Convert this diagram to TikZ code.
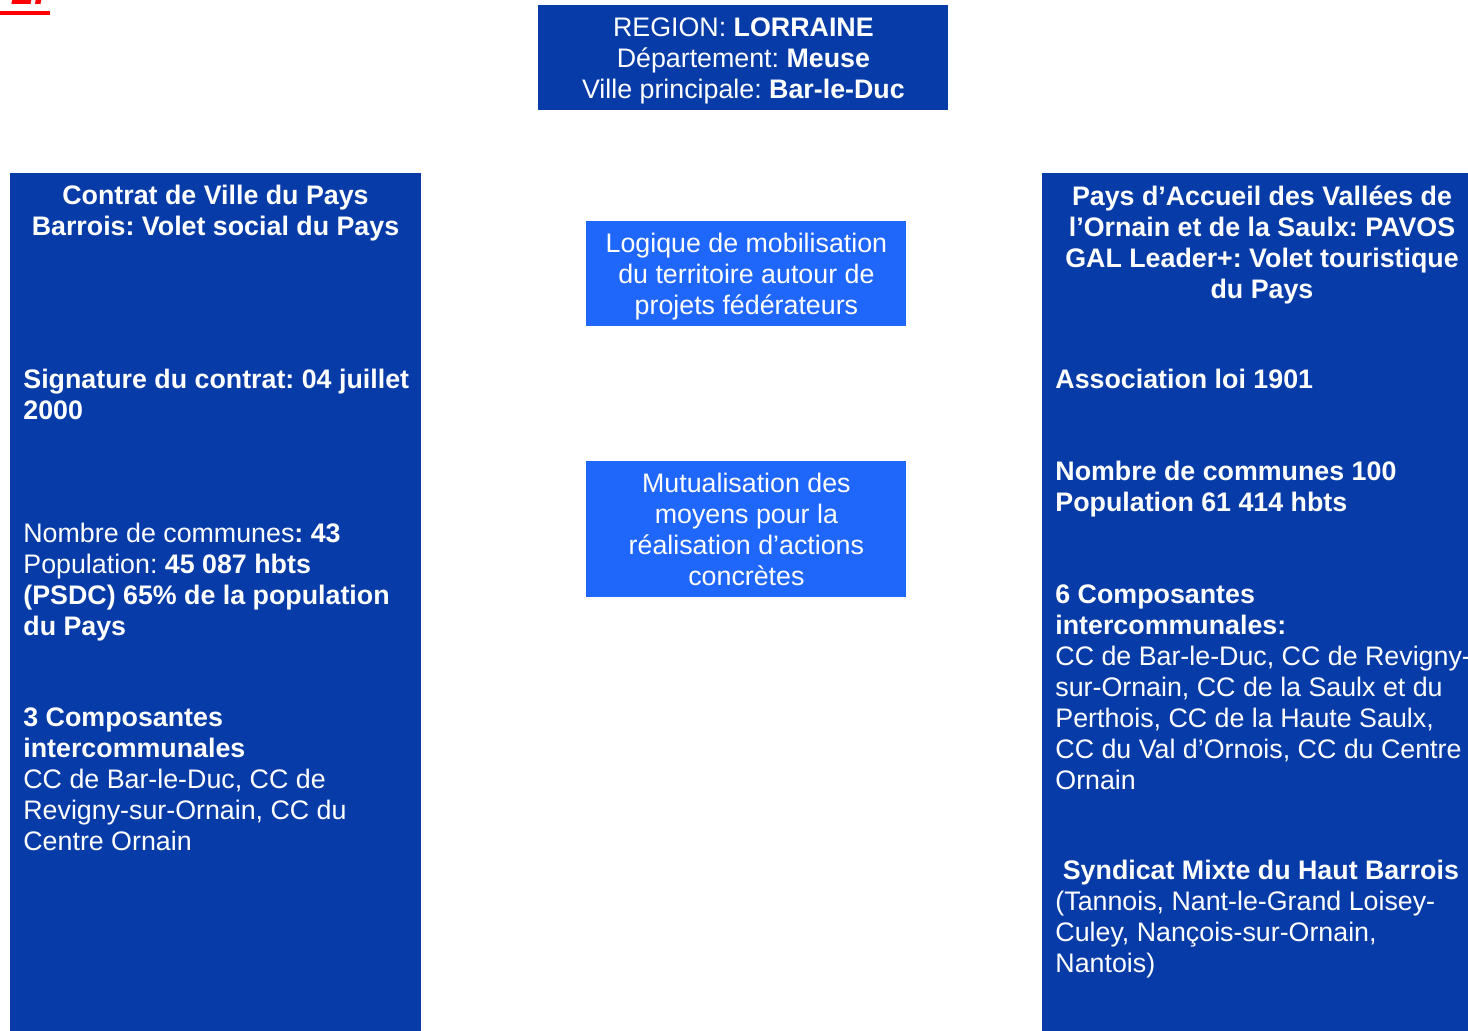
\documentclass[tikz,border=0pt]{standalone}
\usepackage{fontspec}
\setmainfont{Liberation Sans}
\usetikzlibrary{positioning}
\definecolor{regDark}{HTML}{073CA8}
\definecolor{regLight}{HTML}{1F66FA}
\definecolor{regRed}{HTML}{FF0000}
\frenchspacing

\begin{document}
\begin{tikzpicture}[
    x=0.5pt, y=-0.5pt,
    font=\fontsize{13.4}{15.5}\selectfont,
    panel/.style={fill=regDark, inner sep=0pt, anchor=north west},
    topbox/.style={panel, text=white, align=center},
    midbox/.style={fill=regLight, text=white, inner sep=0pt, anchor=north west,
                   minimum width=160pt, align=center},
    headtxt/.style={text=white, inner sep=0pt, anchor=north, align=center,
                    font=\fontsize{13.4}{15.5}\selectfont\bfseries},
    bodytxt/.style={text=white, inner sep=0pt, anchor=north west, align=left}
]
\useasboundingbox (0,0) rectangle (1468,1031);

% -- section number (cut at the page edge)
\node[text=regRed, font=\fontsize{20}{24}\selectfont\bfseries\itshape,
      inner sep=0pt, anchor=base west] (secnum) at (12,5) {2.};
\draw[regRed, line width=2pt] (0,13) -- (50,13);

% -- Row 1: region
\node[topbox, minimum width=205pt, minimum height=52.5pt] (region) at (538,5)
  {\rule{0pt}{12.6pt}REGION: \textbf{LORRAINE}\\ Département: \textbf{Meuse}\\
   Ville principale: \textbf{Bar-le-Duc}};

% -- side panels
\node[panel, minimum width=205.5pt, minimum height=430pt] (contrat) at (10,173) {};
\node[panel, minimum width=213pt, minimum height=430pt] (pavos) at (1042,173) {};

% -- middle boxes
\node[midbox, minimum height=52.5pt] (logique) at (586,221)
  {\rule{0pt}{12.8pt}Logique de mobilisation\\ du territoire autour de\\ projets fédérateurs};
\node[midbox, minimum height=68pt] (mutual) at (586,461)
  {Mutualisation des\\ moyens pour la\\ réalisation d’actions\\ concrètes};

% -- left panel text
\node[headtxt] (contratTitle) at (215.5,185)
  {Contrat de Ville du Pays\\ Barrois: Volet social du Pays};
\node[bodytxt, font=\fontsize{13.4}{15.5}\selectfont\bfseries] (contratSign) at (23,369)
  {Signature du contrat: 04 juillet\\ 2000};
\node[bodytxt] (contratPop) at (23,523)
  {Nombre de communes\textbf{: 43}\\ Population: \textbf{45 087 hbts}\\
   \textbf{(PSDC) 65\% de la population}\\ \textbf{du Pays}};
\node[bodytxt] (contratCC) at (23,707)
  {\textbf{3 Composantes}\\ \textbf{intercommunales}\\ CC de Bar-le-Duc, CC de\\
   Revigny-sur-Ornain, CC du\\ Centre Ornain};

% -- right panel text
\node[headtxt] (pavosTitle) at (1262,185)
  {Pays d’Accueil des Vallées de\\ l’Ornain et de la Saulx: PAVOS\\
   GAL Leader+: Volet touristique\\ du Pays};
\node[bodytxt, font=\fontsize{13.4}{15.5}\selectfont\bfseries] (pavosAssoc) at (1055,369)
  {Association loi 1901};
\node[bodytxt, font=\fontsize{13.4}{15.5}\selectfont\bfseries] (pavosPop) at (1055,461)
  {Nombre de communes 100\\ Population 61 414 hbts};
\node[bodytxt] (pavosCC) at (1055,584)
  {\textbf{6 Composantes}\\ \textbf{intercommunales:}\\ CC de Bar-le-Duc, CC de Revigny-\\
   sur-Ornain, CC de la Saulx et du\\ Perthois, CC de la Haute Saulx,\\
   CC du Val d’Ornois, CC du Centre\\ Ornain};
\node[bodytxt] (pavosSynd) at (1055,860)
  {\textbf{\ Syndicat Mixte du Haut Barrois}\\ (Tannois, Nant-le-Grand Loisey-\\
   Culey, Nançois-sur-Ornain,\\ Nantois)};

\end{tikzpicture}
\end{document}
